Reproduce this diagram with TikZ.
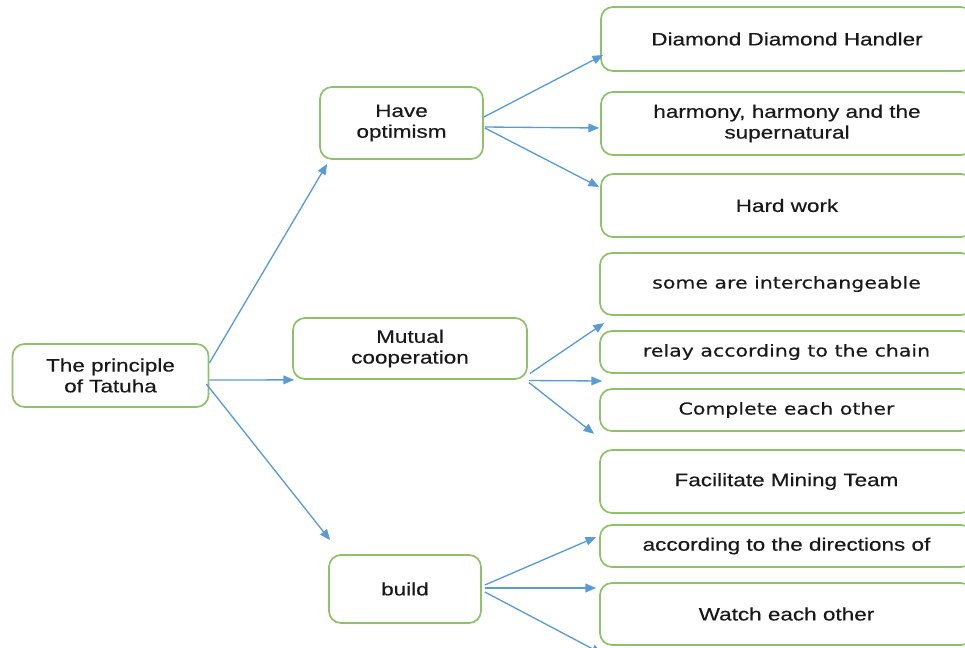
\documentclass[tikz,border=0pt]{standalone}
\usepackage{fontspec}
\setmainfont{Liberation Sans}[FakeStretch=1.25, FakeBold=0.35]
\newfontfamily\widefont{DejaVu Sans}[FakeStretch=1.25, FakeBold=0.25]
\usetikzlibrary{arrows.meta}
\definecolor{boxgreen}{RGB}{141,194,104}
\definecolor{arrowblue}{RGB}{91,155,213}
\definecolor{inkgray}{RGB}{25,25,25}
\tikzset{
  box/.style 2 args={draw=boxgreen, line width=1.3pt, rounded corners=9pt,
    fill=white, align=center, text=inkgray, inner sep=0pt,
    minimum width=#1*0.75pt, minimum height=#2*0.75pt,
    font=\fontsize{13.5pt}{15.6pt}\selectfont},
  widetext/.style={font=\widefont\fontsize{12.3pt}{15pt}\selectfont},
  arr/.style={draw=arrowblue, line width=1pt,
    -{Triangle[length=8pt,width=6.5pt]}, arrowblue}
}
\begin{document}
\begin{tikzpicture}[x=0.75pt, y=-0.75pt]
\useasboundingbox (0,0) rectangle (965,647);

% root and first level
\node[box={196}{63}] (root) at (110.5,375.5) {The principle\\of Tatuha};
\node[box={163}{72}] (have) at (401.5,123) {Have\\optimism};
\node[box={234}{61}] (mutual) at (410,348.5) {Mutual\\cooperation};
\node[box={152}{68}] (build) at (405,589) {build};

% second level, running past the right edge
\node[box={372}{64}] (diamond) at (787,39) {Diamond Diamond Handler};
\node[box={372}{63}] (harmony) at (787,123.5) {harmony, harmony and the\\supernatural};
\node[box={372}{63}] (hard) at (787,205.5) {Hard work};

\node[box={373}{62}, widetext] (some) at (786.5,284) {some are interchangeable};
\node[box={373}{42}, widetext] (relay) at (786.5,352) {relay according to the chain};
\node[box={373}{42}, widetext] (complete) at (786.5,410) {Complete each other};

\node[box={373}{63}] (facil) at (786.5,481.5) {Facilitate Mining Team};
\node[box={373}{42}] (accord) at (786.5,546) {according to the directions of};
\node[box={373}{62}] (watch) at (786.5,614) {Watch each other};

\coordinate (offbelow) at ([shift={(3,8)}]watch.south west);

% connectors from the root
\draw[arr] ([shift={(0,-12.5)}]root.east) -- ([shift={(8,4)}]have.south west);
\draw[arr] ([shift={(0,4.5)}]root.east) -- ([shift={(2,0)}]mutual.south west);
\draw[arr] ([shift={(-3,8.5)}]root.east) -- ([shift={(2,-14)}]build.north west);

% connectors from "Have optimism"
\draw[arr] ([shift={(0,-6)}]have.east) -- ([shift={(3,16)}]diamond.west);
\draw[arr] ([shift={(1,4)}]have.east) -- ([shift={(-1,4.5)}]harmony.west);
\draw[arr] ([shift={(1,5)}]have.east) -- ([shift={(-1,-18.5)}]hard.west);

% connectors from "Mutual cooperation"
\draw[arr] ([shift={(2,25)}]mutual.east) -- ([shift={(5,39)}]some.west);
\draw[arr] ([shift={(1,32)}]mutual.east) -- ([shift={(3,29)}]relay.west);
\draw[arr] ([shift={(1,34)}]mutual.east) -- ([shift={(-5,2)}]complete.south west);

% connectors from "build"
\draw[arr] ([shift={(3,-4)}]build.east) -- ([shift={(-3,-9)}]accord.west);
\draw[arr] ([shift={(3,-1)}]build.east) -- ([shift={(-3,-26)}]watch.west);
\draw[arr] ([shift={(3,3)}]build.east) -- (offbelow);
\end{tikzpicture}
\end{document}
